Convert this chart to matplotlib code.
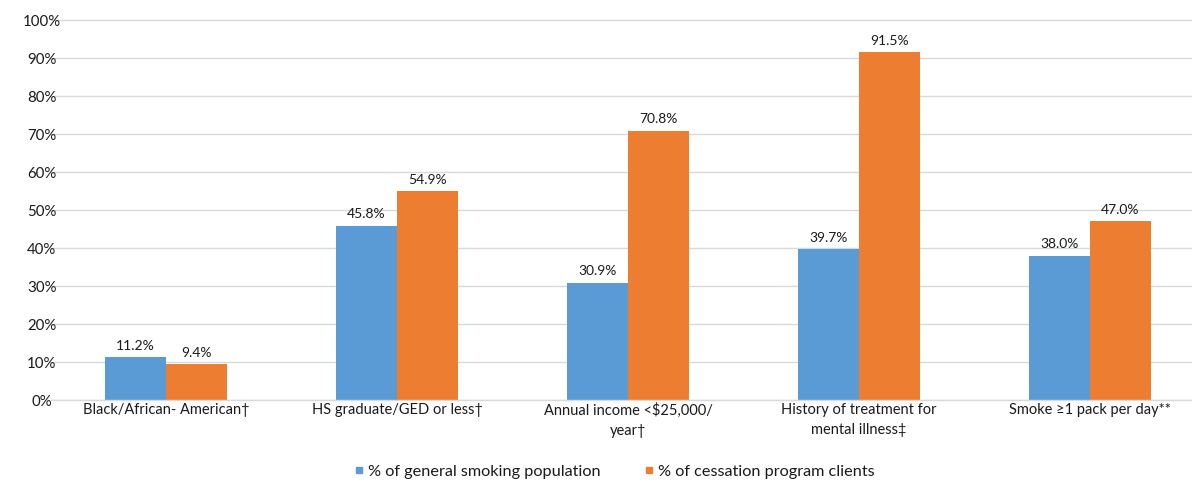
import numpy as np
import matplotlib
matplotlib.use('Agg')
import matplotlib.pyplot as plt
from matplotlib.lines import Line2D

# Chart data
categories = ['Black/African- American\u2020', 'HS graduate/GED or less\u2020',
              'Annual income <$25,000/\nyear\u2020', 'History of treatment for\nmental illness\u2021',
              'Smoke \u22651 pack per day**']
general_pop = [11.2, 45.8, 30.9, 39.7, 38.0]
cessation_clients = [9.4, 54.9, 70.8, 91.5, 47.0]
series_names = ['% of general smoking population', '% of cessation program clients']
y_ticks = [0, 10, 20, 30, 40, 50, 60, 70, 80, 90, 100]

BLUE = '#5B9BD5'
ORANGE = '#ED7D31'
TEXT = '#1a1a1a'

plt.rcParams['font.family'] = ['Lato', 'DejaVu Sans']

W, H = 1192, 480
fig = plt.figure(figsize=(W / 100, H / 100), dpi=100)
ax = fig.add_axes([50.5 / W, 80 / H, (W - 50.5) / W, 380 / H])

x = np.arange(len(categories))
bw = 0.264
b1 = ax.bar(x - bw / 2, general_pop, bw, color=BLUE, zorder=3)
b2 = ax.bar(x + bw / 2, cessation_clients, bw, color=ORANGE, zorder=3)

for bars, vals in ((b1, general_pop), (b2, cessation_clients)):
    for rect, v in zip(bars, vals):
        ax.annotate(f'{v:.1f}%', (rect.get_x() + rect.get_width() / 2, v),
                    xytext=(0, 4), textcoords='offset points',
                    ha='center', va='bottom', fontsize=10, color=TEXT)

ax.set_xlim(-0.5, (1192 - 166) / 231)
ax.set_ylim(0, 100)
ax.set_yticks(y_ticks)
ax.set_yticklabels([f'{t}%' for t in y_ticks], ha='center')
ax.set_xticks(x)
ax.set_xticklabels(categories, fontsize=10.5, color=TEXT, linespacing=1.55)
# labels are centred a little left of the axis edge, as in the source chart
ax.tick_params(axis='y', length=0, pad=6.2, labelsize=10.8, labelcolor=TEXT)
ax.tick_params(axis='x', length=0, pad=2)

ax.grid(axis='y', color='#D9D9D9', linewidth=1, zorder=0)
for gl in ax.get_ygridlines():
    gl.set_clip_on(False)
for s in ax.spines.values():
    s.set_visible(False)
ax.axhline(0, color='#D9D9D9', linewidth=1, zorder=4)

handles = [Line2D([], [], marker='s', linestyle='none', color=c, markersize=3.8)
           for c in (BLUE, ORANGE)]
fig.legend(handles, series_names, loc='lower center', bbox_to_anchor=(0.516, -0.028),
           ncol=2, frameon=False, fontsize=11.7, handlelength=0.4, handletextpad=0.35,
           columnspacing=2.8, labelcolor=TEXT)

fig.savefig('out.png', dpi=100)
